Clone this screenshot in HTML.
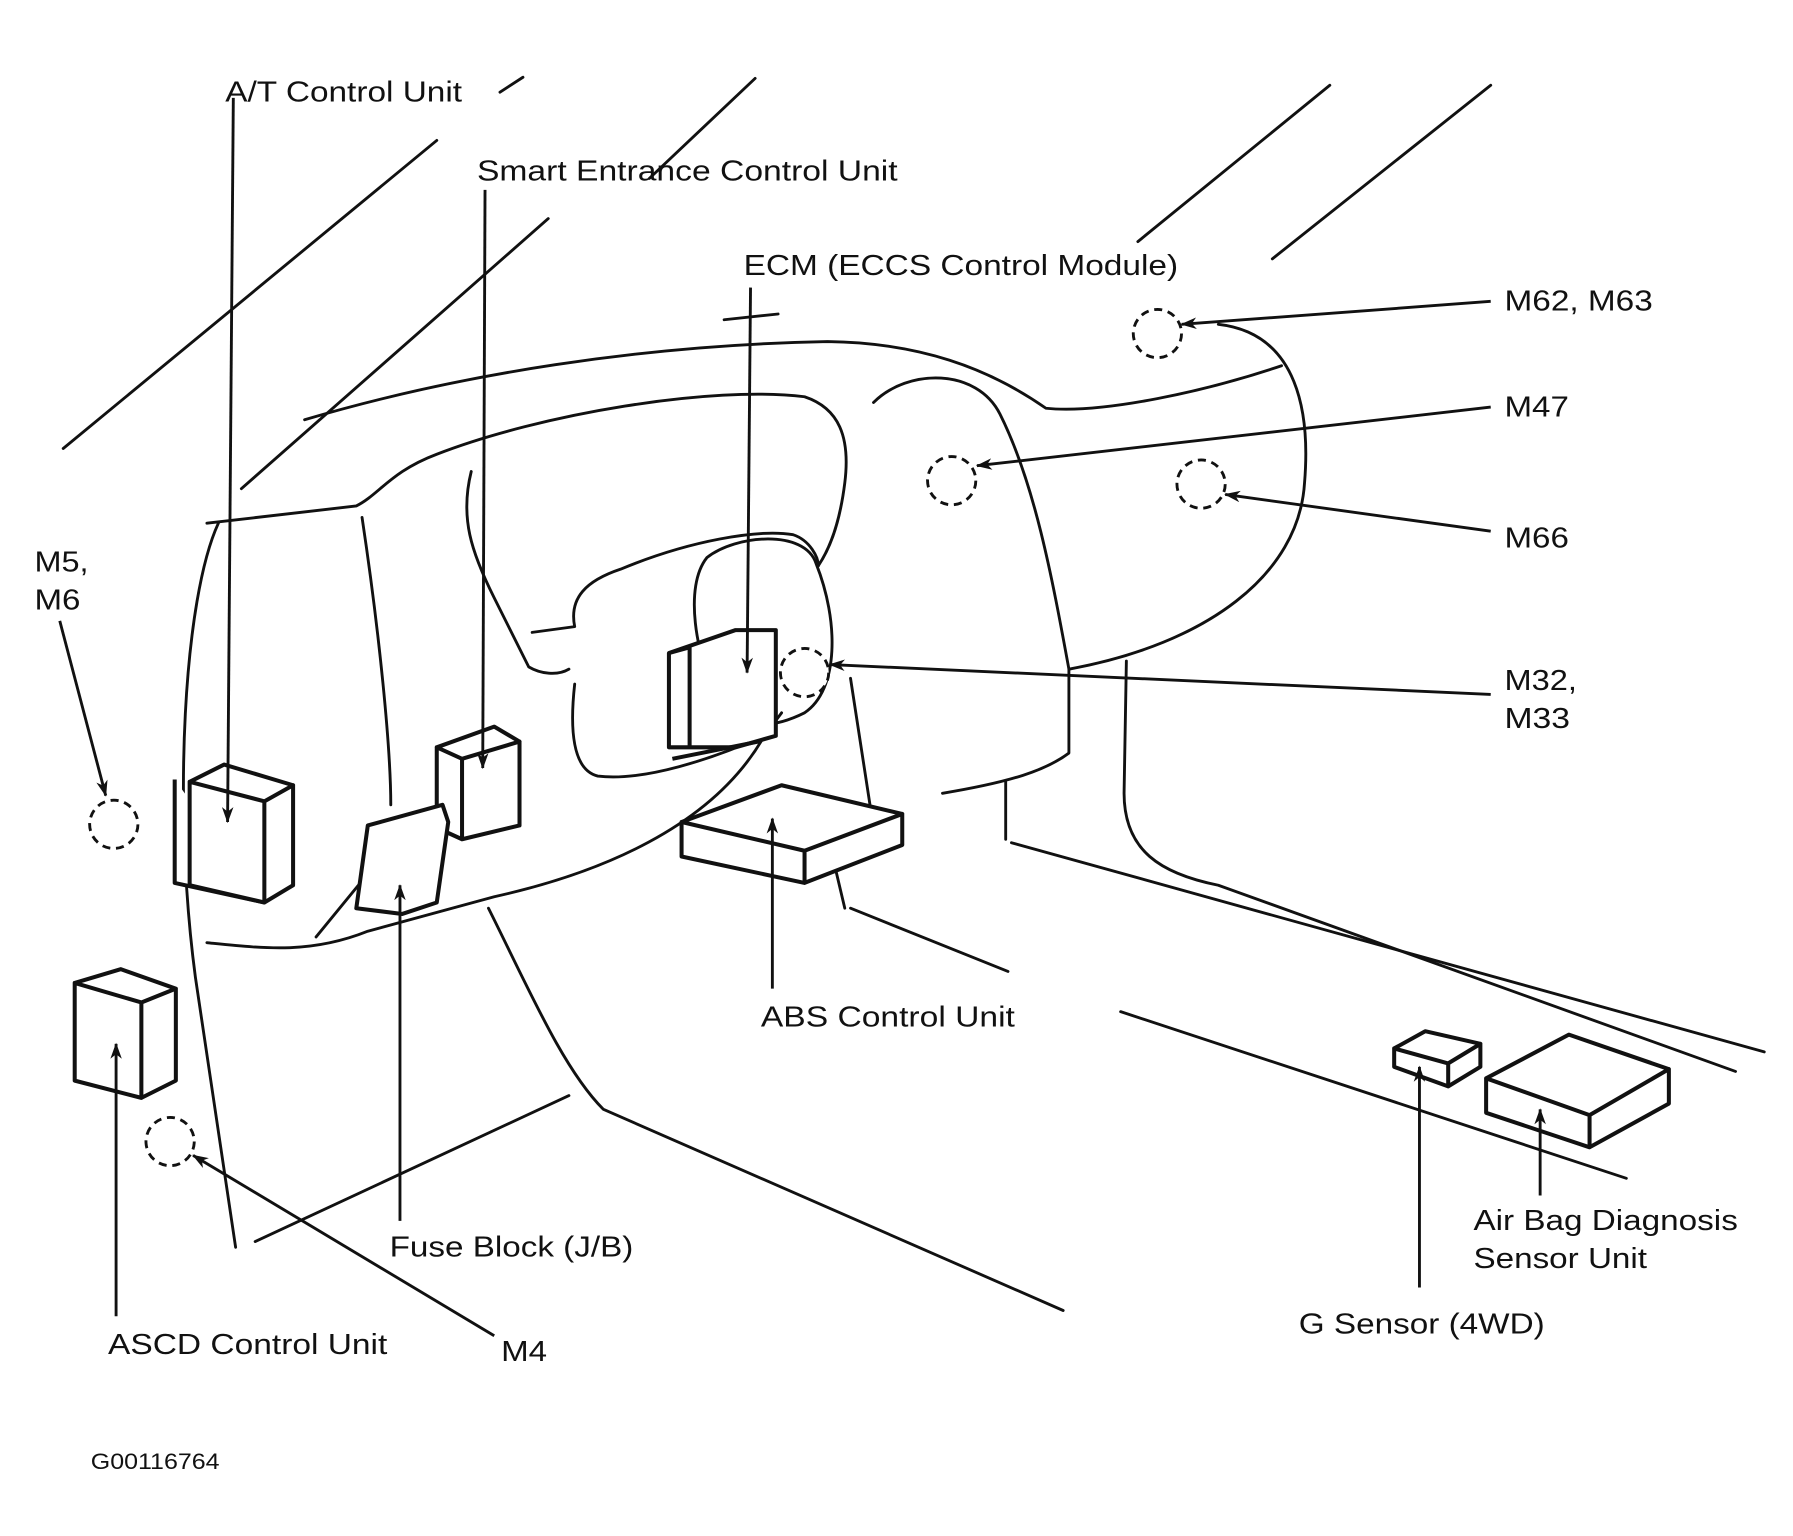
<!DOCTYPE html>
<html><head><meta charset="utf-8"><style>
html,body{margin:0;padding:0;background:#fff;}
svg{display:block}
text{font-family:"Liberation Sans",sans-serif;font-size:25px;fill:#111}
</style></head><body>
<svg width="1793" height="1536" viewBox="0 0 1560 1336" xmlns="http://www.w3.org/2000/svg">
<defs><marker id="a" markerWidth="14" markerHeight="10" refX="13" refY="5" orient="auto" markerUnits="userSpaceOnUse"><path d="M0,0 L14,5 L0,10 L4,5 Z" fill="#111"/></marker></defs>
<g fill="none" stroke="#111" stroke-width="2.5" stroke-linecap="round" stroke-linejoin="round">
<path d="M55,390 L380,122 M210,425 L477,190 M435,80 L455,67 M565,155 L657,68 M990,210 L1157,74 M1107,225 L1297,74 M630,278 L677,273"/>
<path d="M265,365 C400,325 560,300 720,297 C800,298 860,320 910,355 C960,360 1050,340 1115,318"/>
<path d="M180,455 L310,440 C330,430 340,410 380,395 C470,360 620,335 700,345 C730,355 740,380 735,420 C730,460 720,480 712,492"/>
<path d="M410,410 C400,450 410,480 430,520 L460,580 C470,586 485,588 495,582"/>
<path d="M463,550 L500,545 C495,520 510,505 540,495 C600,470 660,460 690,465 C705,470 712,485 712,492"/>
<path d="M760,350 C790,320 850,320 870,360 C900,420 915,500 930,582"/>
<path d="M1060,282 C1130,290 1140,360 1135,420 C1130,500 1050,560 930,582"/>
<path d="M930,582 L930,655 C910,670 880,680 820,690"/>
<path d="M615,485 C640,465 700,460 710,490 C730,540 730,600 700,620 C670,635 640,635 625,610 C605,570 595,510 615,485"/>
<path d="M500,595 C495,640 500,670 520,675 C560,680 620,660 665,640 L680,620"/>
<path d="M740,590 L760,720 M722,735 L735,790"/>
<path d="M875,680 L875,730 M880,733 L1535,915 M740,790 L877,845 M975,880 L1415,1025"/>
<path d="M425,790 C460,860 490,930 525,965 L925,1140 M222,1080 L495,953"/>
<path d="M190,455 C160,520 150,700 170,850 C185,950 195,1020 205,1085"/>
<path d="M315,450 C330,550 340,650 340,700"/>
<path d="M980,575 L978,690 C978,740 1010,760 1060,770 L1510,932"/>
<path d="M180,820 C230,825 270,830 320,810 L430,780 C520,760 620,720 665,640"/>
<path d="M275,815 L320,760"/>
</g>
<g fill="#fff" stroke="#111" stroke-width="3.5" stroke-linejoin="round">
<path d="M152,678 L152,768 L230,785"/>
<path d="M165,680 L195,665 L255,683 L230,697 Z M165,680 L230,697 L230,785 L165,770 Z M230,697 L255,683 L255,770 L230,785 Z"/>
<path d="M380,650 L430,632 L452,645 L402,660 Z M380,650 L402,660 L402,730 L380,720 Z M402,660 L452,645 L452,718 L402,730 Z"/>
<path d="M320,718 L385,700 L390,715 L380,785 L350,795 L310,790 Z"/>
<path d="M582,568 L640,548 L675,548 L675,640 L640,650 L582,650 Z M582,568 L600,563 L600,650"/>
<path d="M585,660 L660,645"/>
<path d="M593,715 L680,683 L785,708 L700,740 Z M593,715 L700,740 L700,768 L593,745 Z M700,740 L785,708 L785,735 L700,768 Z"/>
<path d="M65,855 L105,843 L153,860 L123,872 Z M65,855 L123,872 L123,955 L65,940 Z M123,872 L153,860 L153,940 L123,955 Z"/>
<path d="M1213,912 L1240,897 L1288,908 L1260,925 Z M1213,912 L1260,925 L1260,945 L1213,928 Z M1260,925 L1288,908 L1288,928 L1260,945 Z"/>
<path d="M1293,938 L1365,900 L1452,930 L1383,970 Z M1293,938 L1383,970 L1383,998 L1293,968 Z M1383,970 L1452,930 L1452,960 L1383,998 Z"/>
</g>
<g fill="#fff" stroke="#111" stroke-width="2.5" stroke-dasharray="7,5">
<circle cx="1007" cy="290" r="21"/><circle cx="828" cy="418" r="21"/><circle cx="1045" cy="421" r="21"/>
<circle cx="700" cy="585" r="21"/><circle cx="99" cy="717" r="21"/><circle cx="148" cy="993" r="21"/>
</g>
<g stroke="#111" stroke-width="2.5" marker-end="url(#a)">
<line x1="203" y1="85" x2="198" y2="715"/>
<line x1="422" y1="165" x2="420" y2="668"/>
<line x1="653" y1="250" x2="650" y2="585"/>
<line x1="1297" y1="262" x2="1028" y2="282"/>
<line x1="1297" y1="354" x2="850" y2="405"/>
<line x1="1297" y1="462" x2="1066" y2="430"/>
<line x1="1297" y1="604" x2="722" y2="578"/>
<line x1="52" y1="540" x2="92" y2="692"/>
<line x1="672" y1="860" x2="672" y2="712"/>
<line x1="348" y1="1062" x2="348" y2="770"/>
<line x1="101" y1="1145" x2="101" y2="908"/>
<line x1="430" y1="1162" x2="168" y2="1005"/>
<line x1="1235" y1="1120" x2="1235" y2="928"/>
<line x1="1340" y1="1040" x2="1340" y2="965"/>
</g>
<g lengthAdjust="spacingAndGlyphs">
<text x="196" y="88" textLength="206" lengthAdjust="spacingAndGlyphs">A/T Control Unit</text>
<text x="415" y="157" textLength="366" lengthAdjust="spacingAndGlyphs">Smart Entrance Control Unit</text>
<text x="647" y="239" textLength="378" lengthAdjust="spacingAndGlyphs">ECM (ECCS Control Module)</text>
<text x="1309" y="270" textLength="129" lengthAdjust="spacingAndGlyphs">M62, M63</text>
<text x="1309" y="362" textLength="56" lengthAdjust="spacingAndGlyphs">M47</text>
<text x="1309" y="476" textLength="56" lengthAdjust="spacingAndGlyphs">M66</text>
<text x="1309" y="600" textLength="63" lengthAdjust="spacingAndGlyphs">M32,</text>
<text x="1309" y="633" textLength="57" lengthAdjust="spacingAndGlyphs">M33</text>
<text x="30" y="497" textLength="47" lengthAdjust="spacingAndGlyphs">M5,</text>
<text x="30" y="530" textLength="40" lengthAdjust="spacingAndGlyphs">M6</text>
<text x="662" y="893" textLength="221" lengthAdjust="spacingAndGlyphs">ABS Control Unit</text>
<text x="339" y="1093" textLength="212" lengthAdjust="spacingAndGlyphs">Fuse Block (J/B)</text>
<text x="94" y="1178" textLength="243" lengthAdjust="spacingAndGlyphs">ASCD Control Unit</text>
<text x="436" y="1184" textLength="40" lengthAdjust="spacingAndGlyphs">M4</text>
<text x="1130" y="1160" textLength="214" lengthAdjust="spacingAndGlyphs">G Sensor (4WD)</text>
<text x="1282" y="1070" textLength="230" lengthAdjust="spacingAndGlyphs">Air Bag Diagnosis</text>
<text x="1282" y="1103" textLength="151" lengthAdjust="spacingAndGlyphs">Sensor Unit</text>
<text x="79" y="1278" style="font-size:19px" textLength="112" lengthAdjust="spacingAndGlyphs">G00116764</text>
</g>
</svg>
</body></html>
